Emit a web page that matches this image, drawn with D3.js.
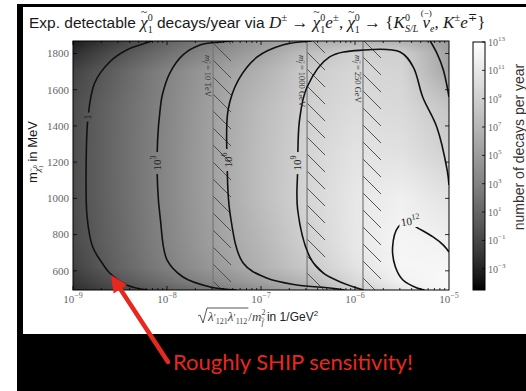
<!DOCTYPE html>
<html><head><meta charset="utf-8">
<script src="https://cdn.jsdelivr.net/npm/d3@7"></script>
<style>body{margin:0;background:#fff}svg{display:block}text{white-space:pre}</style>
</head><body>
<svg id="c" width="526" height="391"></svg>
<script>
// ---- data -------------------------------------------------------------
// log10 of sqrt(λ'121 λ'112)/m_f^2 [1/GeV^2] at the sampled columns
const couplingLog = [-9, -8.5, -8, -7.5, -7, -6.5, -6, -5.5, -5];
// neutralino masses [MeV] of the sampled rows
const massRows = [494, 540, 620, 750, 1000, 1250, 1500, 1700, 1800, 1869];
// log10(detectable decays per year), one row per mass
const logDecays = [
  [-2.5, -0.9, 0.7, 2.3, 4.1, 6.05, 8.55, 10.9, 12.6],
  [-2.0, -0.06, 1.8, 3.6, 5.3, 7.1, 9.7, 11.8, 12.5],
  [-1.3, 0.95, 2.9, 4.7, 6.6, 8.5, 10.6, 12.2, 12.3],
  [-0.8, 1.2, 3.2, 5.2, 7.0, 9.1, 11.0, 12.2, 11.8],
  [-0.6, 1.4, 3.4, 5.45, 7.6, 9.5, 11.0, 11.7, 10.6],
  [-0.55, 1.45, 3.4, 5.5, 7.6, 9.4, 10.6, 10.5, 9.1],
  [-0.6, 1.4, 3.3, 5.4, 7.4, 9.1, 10.0, 9.8, 8.2],
  [-1.2, 0.9, 3.1, 5.0, 6.6, 8.7, 9.6, 9.4, 5.7],
  [-2.4, -0.2, 1.8, 3.8, 5.5, 7.7, 9.1, 9.05, 5.4],
  [-3.5, -1.3, 0.8, 2.7, 4.6, 6.0, 6.8, 6.6, 5.0]
];
// iso-lines: [log10 coupling, mass in MeV]
const contour1 = [[-8.16,1869],[-8.29,1847],[-8.43,1819],[-8.61,1753],[-8.77,1637],[-8.84,1449],[-8.86,1195],[-8.85,897],[-8.79,731],[-8.69,643],[-8.61,588],[-8.43,522],[-8.21,494]];
const contour1e3 = [[-7.31,1869],[-7.44,1863],[-7.65,1847],[-7.83,1792],[-7.97,1692],[-8.05,1571],[-8.07,1505],[-8.10,1322],[-8.10,1063],[-8.07,881],[-8.0,660],[-7.83,566],[-7.54,511],[-7.26,494]];
const contour1e6 = [[-6.46,1869],[-6.77,1847],[-7.04,1781],[-7.24,1654],[-7.35,1488],[-7.36,1195],[-7.33,919],[-7.19,643],[-6.94,560],[-6.62,522],[-6.27,505],[-6.11,494]];
const contour1e6Corner = [[-5.20,1869],[-5.13,1803],[-5.06,1709],[-5.0,1560]];
const contour1e9 = [[-5.0,1074],[-5.02,1157],[-5.13,1394],[-5.28,1560],[-5.38,1725],[-5.52,1808],[-5.91,1819],[-6.27,1781],[-6.51,1615],[-6.59,1433],[-6.61,1157],[-6.61,936],[-6.48,676],[-6.34,588],[-6.13,533],[-5.91,494]];
const contour1e12 = [[-5.26,494],[-5.34,505],[-5.49,549],[-5.57,621],[-5.60,731],[-5.54,842],[-5.44,869],[-5.33,836],[-5.17,787],[-5.06,742],[-5.0,704]];
const contourLines = [contour1, contour1e3, contour1e6, contour1e6Corner, contour1e9, contour1e12];
// contour labels: exponent of ten and where they sit
const labelExponents = [0, 3, 6, 9, 12];
const labelPoints = [[-8.85,1449],[-8.11,1195],[-7.35,1212],[-6.62,1195],[-5.41,875]];
// sfermion-mass bounds (log10 coupling) and their captions
const boundLog = [-7.51, -6.51, -5.915];
const boundText = ["10 TeV", "1000 GeV", "250 GeV"];
// tick values
const xTickExp = [-9, -8, -7, -6, -5];
const yTicks = [600, 800, 1000, 1200, 1400, 1600, 1800];
const cbarTickExp = [13, 11, 9, 7, 5, 3, 1, -1, -3];

// ---- setup ------------------------------------------------------------
const SANS = "Liberation Sans, Arial, sans-serif";
const SERIF = "Liberation Serif, DejaVu Serif, serif";
const svg = d3.select("#c");
const P = {l: 73, r: 449, t: 41, b: 290};
const x = d3.scaleLog().domain([1e-9, 1e-5]).range([P.l, P.r]);
const y = d3.scaleLinear().domain([494, 1869]).range([P.b, P.t]);
const cb = d3.scaleLinear().domain([-4.5, 13]).range([290, 42]);
// grey colour map, slightly lifted in the mid tones
const norm = d3.scaleLinear().domain([-4.5, 13]).range([0, 1]).clamp(true);
const gray = v => { const g = Math.round(255 * Math.pow(norm(v), 0.8)); return d3.rgb(g, g, g); };
const px = d => x(Math.pow(10, d[0]));
const py = d => y(d[1]);

// slide frame
svg.append("rect").attr("x", 17).attr("y", 4).attr("width", 509).attr("height", 387).attr("fill", "#000");
svg.append("rect").attr("x", 23).attr("y", 7).attr("width", 503).attr("height", 327).attr("fill", "#fff");

// ---- density map --------------------------------------------------------
function field(lx, m) {
  const n = couplingLog.length;
  let ci = (lx - couplingLog[0]) / (couplingLog[1] - couplingLog[0]);
  ci = Math.max(0, Math.min(n - 1.0001, ci));
  const c0 = Math.floor(ci), ct = ci - c0;
  let r0 = d3.bisectRight(massRows, m) - 1;
  r0 = Math.max(0, Math.min(massRows.length - 2, r0));
  let rt = (m - massRows[r0]) / (massRows[r0 + 1] - massRows[r0]);
  rt = Math.max(0, Math.min(1, rt));
  const a = logDecays[r0], b = logDecays[r0 + 1];
  const lo = a[c0] * (1 - ct) + a[c0 + 1] * ct;
  const hi = b[c0] * (1 - ct) + b[c0 + 1] * ct;
  return lo * (1 - rt) + hi * rt;
}
const cw = P.r - P.l, ch = P.b - P.t;
const canvas = document.createElement("canvas");
canvas.width = cw; canvas.height = ch;
const ctx = canvas.getContext("2d");
const img = ctx.createImageData(cw, ch);
for (let j = 0; j < ch; j++) {
  const m = y.invert(P.t + j + 0.5);
  for (let i = 0; i < cw; i++) {
    const lx = Math.log10(x.invert(P.l + i + 0.5));
    const c = gray(field(lx, m));
    const k = (j * cw + i) * 4;
    img.data[k] = c.r; img.data[k + 1] = c.g; img.data[k + 2] = c.b; img.data[k + 3] = 255;
  }
}
ctx.putImageData(img, 0, 0);
svg.append("image").attr("x", P.l).attr("y", P.t).attr("width", cw).attr("height", ch)
  .attr("preserveAspectRatio", "none").attr("href", canvas.toDataURL());

// ---- excluded strips ----------------------------------------------------
const defs = svg.append("defs");
const pat = defs.append("pattern").attr("id", "hatch").attr("patternUnits", "userSpaceOnUse")
  .attr("width", 17).attr("height", 17);
pat.append("path").attr("d", "M0,0L17,17M-3,14L3,20M14,-3L20,3")
  .attr("stroke", "#444").attr("stroke-width", 0.9);
defs.append("clipPath").attr("id", "plotclip").append("rect")
  .attr("x", P.l).attr("y", P.t).attr("width", cw).attr("height", ch);

const strips = svg.append("g").attr("clip-path", "url(#plotclip)");
boundLog.forEach(v => {
  const bx = x(Math.pow(10, v));
  strips.append("rect").attr("x", bx).attr("y", P.t).attr("width", 18).attr("height", ch)
    .attr("fill", "url(#hatch)");
  strips.append("line").attr("x1", bx).attr("x2", bx).attr("y1", P.t).attr("y2", P.b)
    .attr("stroke", "#777").attr("stroke-width", 1.2);
});

// ---- text helper: runs of differently styled text on one baseline ------
function typeset(g, parts, x0, y0) {
  let cx = x0, last = null;
  for (const p of parts) {
    const t = g.append("text")
      .attr("font-family", p.f || SERIF).attr("font-size", p.s || 14)
      .attr("font-style", p.i ? "italic" : null)
      .attr("fill", p.c || "#1a1a1a")
      .attr("y", y0 + (p.dy || 0)).text(p.t);
    if (p.over && last) {
      t.attr("text-anchor", "middle").attr("x", last.x + last.w / 2 + (p.dx || 0));
      continue;
    }
    const w = t.node().getComputedTextLength();
    const sx = cx + (p.dx || 0);
    t.attr("x", sx);
    if (!p.stay) { cx = sx + w; last = {x: sx, w}; }
  }
  return cx;
}

// ---- contour lines, cut open where their labels sit ---------------------
const mask = defs.append("mask").attr("id", "labelgap").attr("maskUnits", "userSpaceOnUse");
mask.append("rect").attr("x", 0).attr("y", 0).attr("width", 526).attr("height", 391).attr("fill", "#fff");
labelPoints.forEach((d, i) => {
  const vertical = labelExponents[i] < 12;
  const w = vertical ? 10 : 22, h = vertical ? (labelExponents[i] === 0 ? 9 : 22) : 12;
  mask.append("rect").attr("x", px(d) - w / 2).attr("y", py(d) - h / 2)
    .attr("width", w).attr("height", h).attr("fill", "#000");
});
const line = d3.line().x(px).y(py).curve(d3.curveCatmullRom.alpha(0.5));
svg.append("g").attr("clip-path", "url(#plotclip)").append("g").attr("mask", "url(#labelgap)")
  .selectAll("path").data(contourLines).join("path")
  .attr("d", line).attr("fill", "none").attr("stroke", "#111").attr("stroke-width", 1.6);

labelPoints.forEach((d, i) => {
  const e = labelExponents[i];
  const t = svg.append("text").attr("font-family", SERIF).attr("font-size", 11).attr("fill", "#222")
    .attr("text-anchor", "middle")
    .attr("transform", `translate(${px(d)},${py(d)}) rotate(${e < 12 ? -90 : -8})`)
    .attr("dy", "0.35em");
  if (e === 0) t.text("1");
  else { t.text("10"); t.append("tspan").attr("dy", -5).attr("font-size", 8).text(e); }
});

// captions of the bound lines
boundLog.forEach((v, i) => {
  const bx = x(Math.pow(10, v));
  const g = svg.append("g").attr("transform", `translate(${bx - 8},${55}) rotate(90)`);
  typeset(g, [
    {t: "m", i: 1, s: 8.5, c: "#333"},
    {t: "f", i: 1, s: 6, dy: 2, c: "#333"},
    {t: "~", s: 6, dy: -3, over: 1, c: "#333"},
    {t: " = " + boundText[i], s: 8.5, c: "#333"}
  ], 0, 0);
});

// ---- frame and ticks ----------------------------------------------------
svg.append("rect").attr("x", P.l).attr("y", P.t).attr("width", cw).attr("height", ch)
  .attr("fill", "none").attr("stroke", "#000").attr("stroke-width", 1);
const ticks = svg.append("g").attr("stroke", "#000").attr("stroke-width", 0.8);
for (let e = -9; e < -5; e++) {
  for (let k = 1; k < 10; k++) {
    const tx = x(k * Math.pow(10, e));
    const len = k === 1 ? 4 : 2;
    ticks.append("line").attr("x1", tx).attr("x2", tx).attr("y1", P.b).attr("y2", P.b - len);
    ticks.append("line").attr("x1", tx).attr("x2", tx).attr("y1", P.t).attr("y2", P.t + len);
  }
}
yTicks.forEach(v => {
  ticks.append("line").attr("x1", P.l).attr("x2", P.l + 4).attr("y1", y(v)).attr("y2", y(v));
  ticks.append("line").attr("x1", P.r).attr("x2", P.r - 4).attr("y1", y(v)).attr("y2", y(v));
});

xTickExp.forEach(e => {
  const t = svg.append("text").attr("x", x(Math.pow(10, e))).attr("y", 303)
    .attr("font-family", SERIF).attr("font-size", 11).attr("fill", "#666").attr("text-anchor", "middle").text("10");
  t.append("tspan").attr("dy", -5).attr("font-size", 8).text("\u2212" + (-e));
});
yTicks.forEach(v => {
  svg.append("text").attr("x", 69).attr("y", y(v)).attr("dy", "0.35em")
    .attr("font-family", SERIF).attr("font-size", 11).attr("fill", "#666").attr("text-anchor", "end").text(v);
});

// ---- colour bar -----------------------------------------------------------
const grad = defs.append("linearGradient").attr("id", "cbar").attr("x1", 0).attr("x2", 0).attr("y1", 1).attr("y2", 0);
d3.range(0, 1.0001, 0.05).forEach(f => grad.append("stop").attr("offset", f)
  .attr("stop-color", gray(-4.5 + f * 17.5)));
svg.append("rect").attr("x", 473).attr("y", cb(13)).attr("width", 12).attr("height", cb(-4.5) - cb(13))
  .attr("fill", "url(#cbar)").attr("stroke", "#000").attr("stroke-width", 1);
cbarTickExp.forEach(e => {
  svg.append("line").attr("x1", 485).attr("x2", 482).attr("y1", cb(e)).attr("y2", cb(e))
    .attr("stroke", "#000").attr("stroke-width", 0.8);
  const t = svg.append("text").attr("x", 488).attr("y", cb(e) + 4)
    .attr("font-family", SERIF).attr("font-size", 10).attr("fill", "#666").text("10");
  t.append("tspan").attr("dy", -5).attr("font-size", 7).text(e < 0 ? "\u2212" + (-e) : e);
});
{
  const g = svg.append("g");
  const w = typeset(g, [{t: "number of decays per year", f: SANS, s: 14, c: "#333"}], 0, 0);
  g.attr("transform", `translate(524,${147 + w / 2}) rotate(-90)`);
}

// ---- titles -------------------------------------------------------------
const chi = (s, sub) => [
  {t: "\u03c7", i: 1, s},
  {t: "~", s: s * 0.7, dy: -s * 0.72, over: 1},
  {t: "0", s: sub, dy: -s * 0.42, stay: 1},
  {t: "1", s: sub, dy: s * 0.28}
];
typeset(svg.append("g"), [
  {t: "Exp. detectable ", f: SANS, s: 15.5},
  ...chi(17, 10),
  {t: " decays/year via ", f: SANS, s: 15.5},
  {t: "D", i: 1, s: 17}, {t: "\u00b1", s: 11, dy: -7},
  {t: " \u2192 ", s: 17},
  ...chi(17, 10),
  {t: "e", i: 1, s: 17}, {t: "\u00b1", s: 11, dy: -7},
  {t: ", ", s: 17},
  ...chi(17, 10),
  {t: " \u2192 {", s: 17},
  {t: "K", i: 1, s: 17}, {t: "0", s: 10, dy: -7, stay: 1}, {t: "S/L", i: 1, s: 10, dy: 4},
  {t: " ", s: 17},
  {t: "\u03bd", i: 1, s: 17}, {t: "(\u2212)", s: 9, dy: -12, over: 1},
  {t: "e", i: 1, s: 10, dy: 4},
  {t: ", ", s: 17},
  {t: "K", i: 1, s: 17}, {t: "\u00b1", s: 11, dy: -7},
  {t: "e", i: 1, s: 17}, {t: "\u2213", s: 11, dy: -7},
  {t: "}", s: 17}
], 29, 28);

{
  const g = svg.append("g");
  const w = typeset(g, [
    {t: "m", f: SANS, s: 13},
    {t: "\u03c7", i: 1, s: 9, dy: 3},
    {t: "~", s: 6, dy: -4, over: 1},
    {t: "0", s: 6, dy: 0, stay: 1},
    {t: "1", s: 6, dy: 6},
    {t: " in MeV", f: SANS, s: 13}
  ], 0, 0);
  g.attr("transform", `translate(37,${152 + w / 2}) rotate(-90)`);
}

{
  const g = svg.append("g");
  const x0 = 208, base = 321;
  const end = typeset(g, [
    {t: "\u03bb", i: 1, s: 13, c: "#444"}, {t: "\u2032", s: 10, c: "#444"}, {t: "121", s: 8, dy: 3, c: "#444"},
    {t: "\u03bb", i: 1, s: 13, c: "#444"}, {t: "\u2032", s: 10, c: "#444"}, {t: "112", s: 8, dy: 3, c: "#444"}
  ], x0, base);
  g.append("path").attr("d", `M${x0 - 10},${base - 5}L${x0 - 8},${base - 6}L${x0 - 5},${base + 2}L${x0 - 1},${base - 13}L${end + 1},${base - 13}`)
    .attr("fill", "none").attr("stroke", "#444").attr("stroke-width", 0.9);
  typeset(g, [
    {t: "/", s: 13, c: "#444"}, {t: "m", i: 1, s: 13, c: "#444"},
    {t: "2", s: 8, dy: -6, stay: 1, c: "#444"}, {t: "f", i: 1, s: 8, dy: 4, c: "#444"},
    {t: "~", s: 6, dy: -1, over: 1, c: "#444"},
    {t: " in 1/GeV", f: SANS, s: 12, c: "#222"}, {t: "2", f: SANS, s: 8, dy: -5, c: "#222"}
  ], end + 1, base);
}

// ---- annotation -----------------------------------------------------------
const red = "#e8281e";
svg.append("line").attr("x1", 168).attr("y1", 362).attr("x2", 119).attr("y2", 287)
  .attr("stroke", red).attr("stroke-width", 4.5).attr("stroke-linecap", "round");
{
  const ang = Math.atan2(287 - 362, 119 - 168);
  const tip = [111, 275], L = 17, Wd = 8;
  const bx = tip[0] - L * Math.cos(ang), by = tip[1] - L * Math.sin(ang);
  const nx = -Math.sin(ang), ny = Math.cos(ang);
  svg.append("path").attr("d", `M${tip}L${bx + nx * Wd},${by + ny * Wd}L${bx - nx * Wd},${by - ny * Wd}Z`).attr("fill", red);
}
svg.append("text").attr("x", 173).attr("y", 370).attr("font-family", "Lato, Open Sans, sans-serif")
  .attr("font-size", 22).attr("fill", red).text("Roughly SHIP sensitivity!");
</script>
</body></html>
